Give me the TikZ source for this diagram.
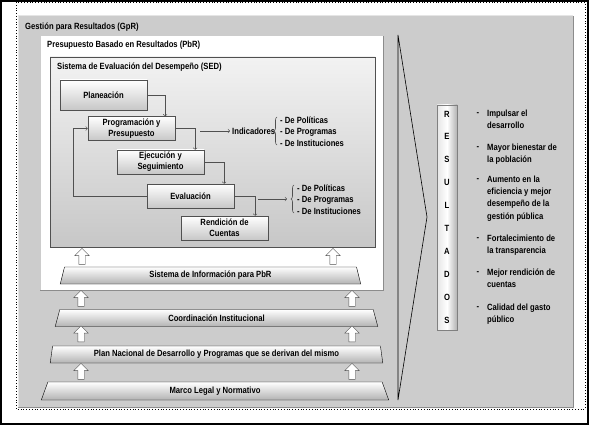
\documentclass[tikz,border=0pt]{standalone}
\usepackage{fontspec}
\setmainfont{Liberation Sans}[FakeStretch=0.85]
\usetikzlibrary{positioning, calc}
\usetikzlibrary{decorations.pathreplacing}
\usetikzlibrary{shapes.geometric, shapes.arrows}
\usetikzlibrary{arrows}
\definecolor{fondo}{RGB}{204,204,204}
\definecolor{borde}{RGB}{80,80,80}

\begin{document}
\begin{tikzpicture}[x=1pt, y=-1pt, font=\bfseries\fontsize{9}{11}\selectfont,
    etapa/.style={draw=borde, top color=white, bottom color=black!22, minimum width=87pt, minimum height=24pt, align=center, inner sep=1pt},
    nivel/.style={trapezium, trapezium stretches=true, trapezium left angle=78, trapezium right angle=78, draw=black, top color=white, bottom color=black!30, minimum height=17pt, inner sep=0pt},
    flecha/.style={single arrow, shape border rotate=90, draw=borde, fill=white, minimum height=16pt, inner sep=3pt, single arrow head extend=4pt},
    titulo/.style={anchor=west, inner sep=0pt},
    linea/.style={draw=borde, line width=0.6pt},
    llave/.style={draw=borde, line width=0.6pt, decorate, decoration={brace, amplitude=3pt}}]
    \useasboundingbox (0,0) rectangle (589,425);
    % marcos
    \draw[line width=2pt] (1,1) rectangle (588,424);
    \draw[dotted, line width=0.8pt] (16,2) rectangle (585,409);
    % GpR
    \fill[fondo] (18,16) rectangle (573,407);
    \draw[black!10, line width=1pt] (18,407) -- (18,16) -- (573,16);
    \draw[black!45, line width=1pt] (18,407) -- (573,407) -- (573,16);
    \node[titulo] (gpr) at (25,27) {Gestión para Resultados (GpR)};
    % PbR
    \fill[white] (40,36) rectangle (383,290);
    \draw[black!20, line width=1pt] (40,290) -- (40,36) -- (383,36);
    \draw[black!45, line width=1pt] (40,290) -- (383,290) -- (383,36);
    \node[titulo] (pbr) at (47,45) {Presupuesto Basado en Resultados (PbR)};
    % SED
    \draw[borde, line width=0.8pt, top color=black!5, bottom color=black!22] (50,57) rectangle (375,247);
    \node[titulo] (sed) at (57,67) {Sistema de Evaluación del Desempeño (SED)};

    \node[etapa, minimum height=30pt] (plan) at (103.5,95) {Planeación};
    \node[etapa] (prog) at (131.5,128.5) {Programación y\\Presupuesto};
    \node[etapa] (ejec) at (160.5,162) {Ejecución y\\Seguimiento};
    \node[etapa] (eval) at (190.5,196) {Evaluación};
    \node[etapa] (rend) at (224.5,228) {Rendición de\\Cuentas};

    \draw[linea, ->] (plan.east) -| ([xshift=-10pt]prog.north east);
    \draw[linea, ->] (prog.east) -| ([xshift=-9pt]ejec.north east);
    \draw[linea, ->] (ejec.east) -| ([xshift=-10pt]eval.north east);
    \draw[linea, ->] (eval.east) -| ([xshift=-13pt]rend.north east);
    \draw[linea, ->] (eval.west) -- ++(-74,0) |- (prog.west);

    % indicadores
    \coordinate (a1) at (200,131);
    \node[titulo] (ind) at (232,131) {Indicadores};
    \draw[linea, ->] (a1) -- ([xshift=-2pt]ind.west);
    \draw[llave] (277,145) -- (277,117);
    \node[titulo] (pol1) at (280,120) {- De Políticas};
    \node[titulo] (prg1) at (280,132) {- De Programas};
    \node[titulo] (ins1) at (280,143) {- De Instituciones};

    \coordinate (a2) at (258,199);
    \coordinate (b2) at (287,199);
    \draw[linea, ->] (a2) -- (b2);
    \draw[llave] (294,213) -- (294,185);
    \node[titulo] (pol2) at (297,188) {- De Políticas};
    \node[titulo] (prg2) at (297,200) {- De Programas};
    \node[titulo] (ins2) at (297,211) {- De Instituciones};

    % niveles
    \node[flecha] (f1) at (82,258) {};
    \node[flecha] (f2) at (333,258) {};
    \node[nivel, minimum width=301pt] (sip) at (210.5,275.5) {Sistema de Información para PbR};
    \node[flecha] (f3) at (81,300) {};
    \node[flecha] (f4) at (352,300) {};
    \node[nivel, minimum width=325pt] (coord) at (216.5,318) {Coordinación Institucional};
    \node[flecha] (f5) at (81,335.5) {};
    \node[flecha] (f6) at (352,335.5) {};
    \node[nivel, minimum width=333pt] (pnd) at (216.5,354.5) {Plan Nacional de Desarrollo y Programas que se derivan del mismo};
    \node[flecha] (f7) at (81,373) {};
    \node[flecha] (f8) at (352,373) {};
    \node[nivel, minimum width=350pt, minimum height=18pt] (marco) at (215,391) {Marco Legal y Normativo};

    % resultados
    \draw[black, line width=0.6pt] (398,35) -- (427,217) -- (398,400) -- cycle;
    \node[draw=black!50, line width=0.8pt, left color=black!10, right color=black!30, middle color=white, minimum width=20pt, minimum height=225pt, inner sep=0pt] (res) at (447,217.5) {};
    \node (l1) at (447,114) {R};
    \node (l2) at (447,136.9) {E};
    \node (l3) at (447,159.8) {S};
    \node (l4) at (447,182.7) {U};
    \node (l5) at (447,205.6) {L};
    \node (l6) at (447,228.5) {T};
    \node (l7) at (447,251.4) {A};
    \node (l8) at (447,274.3) {D};
    \node (l9) at (447,297.2) {O};
    \node (l10) at (447,320.1) {S};

    \begin{scope}[font=\bfseries\fontsize{9}{12.3}\selectfont]
    \node (g1) at (478,114) {-};
    \node[anchor=north west, inner sep=0pt, align=left] (r1) at (487,109.5) {Impulsar el\\desarrollo};
    \node (g2) at (478,148) {-};
    \node[anchor=north west, inner sep=0pt, align=left] (r2) at (487,143.5) {Mayor bienestar de\\la población};
    \node (g3) at (478,180) {-};
    \node[anchor=north west, inner sep=0pt, align=left] (r3) at (487,175.5) {Aumento en la\\eficiencia y mejor\\desempeño de la\\gestión pública};
    \node (g4) at (478,239) {-};
    \node[anchor=north west, inner sep=0pt, align=left] (r4) at (487,234.5) {Fortalecimiento de\\la transparencia};
    \node (g5) at (478,273) {-};
    \node[anchor=north west, inner sep=0pt, align=left] (r5) at (487,268.5) {Mejor rendición de\\cuentas};
    \node (g6) at (478,308) {-};
    \node[anchor=north west, inner sep=0pt, align=left] (r6) at (487,303.5) {Calidad del gasto\\público};
    \end{scope}
\end{tikzpicture}
\end{document}
